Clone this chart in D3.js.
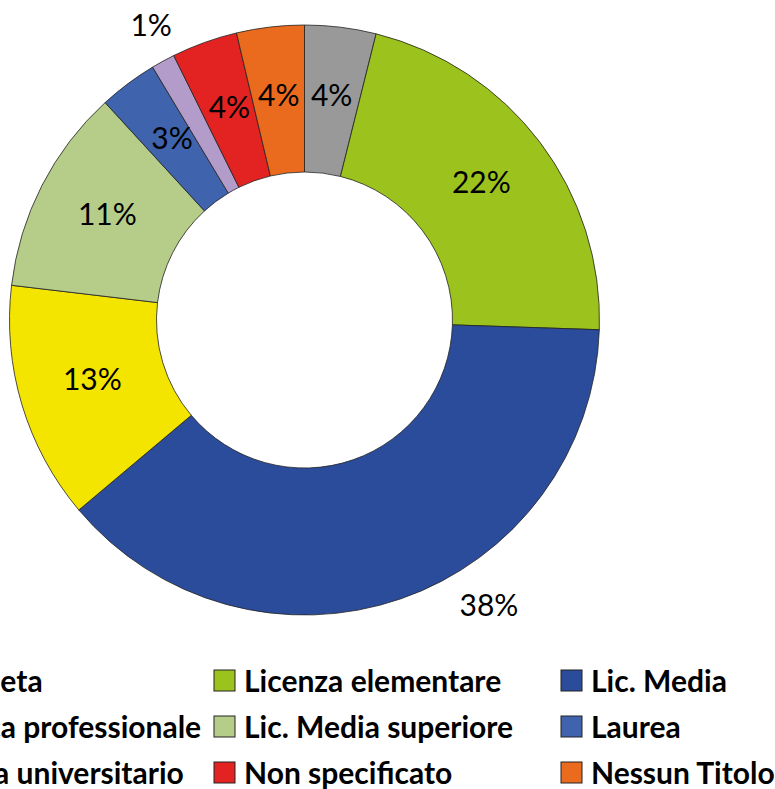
<!DOCTYPE html>
<html>
<head>
<meta charset="utf-8">
<script src="https://cdn.jsdelivr.net/npm/d3@7"></script>
<style>
  body { margin: 0; background: #fff; }
  svg { display: block; }
</style>
</head>
<body>
<div id="chart"></div>
<script>
const categories = ["Analfabeta", "Licenza elementare", "Lic. Media",
    "Qualifica professionale", "Lic. Media superiore", "Laurea",
    "Diploma universitario", "Non specificato", "Nessun Titolo"];
const values = [3.9, 21.6, 38.3, 13.0, 11.3, 3.2, 1.3, 3.6, 3.7];
const colors = ["#999999", "#9bc21d", "#2b4c9b", "#f4e500", "#b6cc89",
    "#3f63ac", "#b39cc9", "#e32322", "#ea6b1d"];
// which labels sit outside the ring
const outside = [false, false, true, false, false, false, true, false, false];

const width = 775, height = 789;
const cx = 304.5, cy = 320, outerR = 295, innerR = 148;

const svg = d3.select('#chart')
    .append('svg')
    .attr('width', width)
    .attr('height', height);

const total = d3.sum(values);
const pie = d3.pie().sort(null).value(d => d);
const arcs = pie(values);

const arc = d3.arc().innerRadius(innerR).outerRadius(outerR);

let g = svg.append('g')
    .attr('transform', `translate(${cx},${cy})`);

g.selectAll('path')
    .data(arcs)
    .join('path')
    .attr('d', arc)
    .attr('fill', (d, i) => colors[i])
    .attr('stroke', '#222')
    .attr('stroke-width', 0.8);

// outside labels: angle shift (rad) and radius
const outsideLabel = {2: {shift: -0.24, r: 340}, 6: {shift: 0.02, r: 332}};

g.selectAll('text')
    .data(arcs)
    .join('text')
    .attr('transform', (d, i) => {
        let p;
        if (outside[i]) {
            const o = outsideLabel[i];
            const a = (d.startAngle + d.endAngle) / 2 + o.shift;
            p = [Math.sin(a) * o.r, -Math.cos(a) * o.r];
        } else {
            p = arc.centroid(d);
        }
        return `translate(${p[0]},${p[1]})`;
    })
    .attr('text-anchor', 'middle')
    .attr('dy', (d, i) => outside[i] ? '0.36em' : '0.2em')
    .style('font-family', 'Lato, sans-serif')
    .style('font-size', '30px')
    .attr('fill', '#000')
    .text(d => Math.round(d.value / total * 100) + '%');

// legend, 3 columns (first column runs off the left edge, as in the original)
const colW = 347, rowH = 46, legX = -133, legY = 670, box = 21;
let legend = svg.append('g');
let items = legend.selectAll('g')
    .data(categories)
    .join('g')
    .attr('transform', (d, i) => `translate(${legX + (i % 3) * colW},${legY + Math.floor(i / 3) * rowH})`);

items.append('rect')
    .attr('width', box)
    .attr('height', box)
    .attr('fill', (d, i) => colors[i])
    .attr('stroke', '#222')
    .attr('stroke-width', 1);

items.append('text')
    .attr('x', box + 9)
    .attr('y', box + 1)
    .style('font-family', 'Lato, sans-serif')
    .style('font-weight', 'bold')
    .style('font-size', '30px')
    .attr('fill', '#000')
    .text(d => d);
</script>
</body>
</html>
